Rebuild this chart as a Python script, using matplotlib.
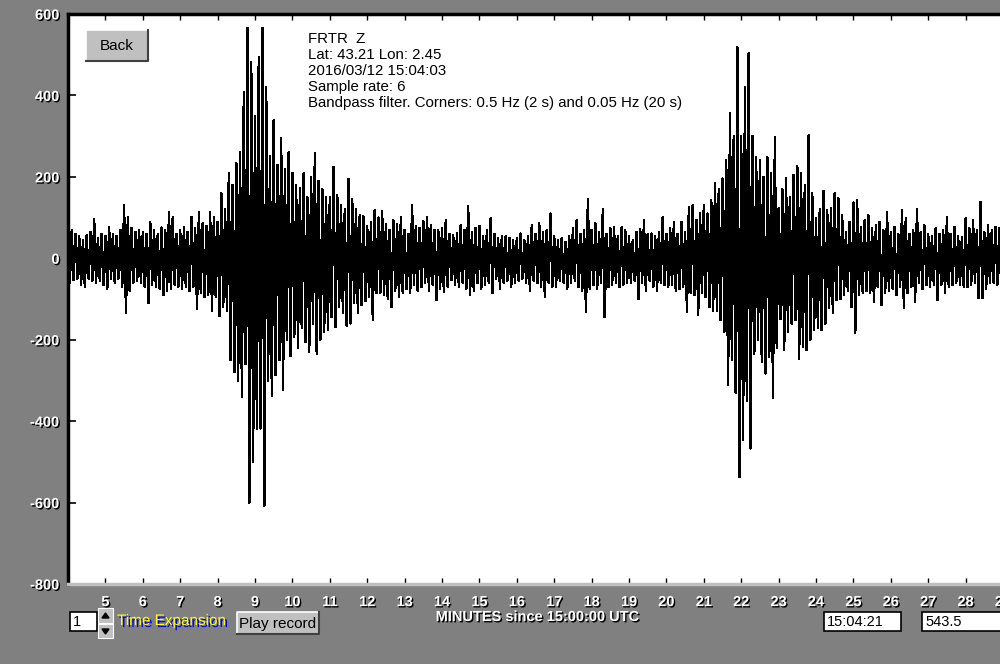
import numpy as np
import matplotlib
matplotlib.use("Agg")
import matplotlib.pyplot as plt
from matplotlib import patheffects as pe
from matplotlib.patches import Rectangle, Polygon

plt.rcParams["axes.unicode_minus"] = False

# FRTR Z, peaks every 0.05 min starting at minute 4.00
t_start = 4.0
t_step = 0.05

pre_event = [  # 4.00 - 7.95
    137, -60, 69, -54, 60, -50, 55, -65, 45, -71, 56, -50, 65, -55, 96, -60, 50, -55, 60, -65,
    55, -75, 76, -50, 60, -60, 55, -50, 70, -70, 130, -135, 100, -80, 75, -60, 65, -55, 70, -60,
    64, -70, 60, -110, 89, -65, 70, -71, 60, -75, 76, -91, 70, -80, 113, -74, 101, -65, 60, -70,
    70, -75, 76, -71, 65, -80, 101, -70, 75, -125, 113, -85, 86, -96, 80, -90, 113, -128, 100, -95,
]
event1 = [  # 8.00 - 10.95
    90, -142, 160, -120, 120, -130, 210, -250, 180, -280, 235, -300, 260, -341, 408, -260, 565, -600, 481, -500,
    350, -420, 494, -418, 565, -607, 420, -300, 250, -339, 340, -287, 230, -250, 295, -324, 220, -200, 260, -240,
    210, -194, 180, -220, 172, -172, 209, -206, 150, -231, 200, -160, 258, -234, 190, -200, 170, -182, 150, -175,
]
coda1 = [  # 11.00 - 15.95
    150, -145, 224, -169, 155, -120, 130, -135, 120, -165, 194, -160, 145, -110, 120, -133, 106, -115, 103, -105,
    80, -95, 90, -152, 118, -85, 100, -86, 115, -90, 85, -100, 70, -120, 93, -80, 85, -95, 101, -86,
    70, -75, 60, -85, 130, -65, 80, -79, 75, -70, 91, -60, 101, -80, 81, -65, 70, -103, 69, -75,
    75, -83, 93, -70, 60, -54, 57, -65, 61, -70, 81, -60, 70, -75, 128, -91, 65, -80, 75, -60,
    79, -74, 55, -66, 69, -60, 98, -86, 60, -50, 49, -74, 55, -60, 54, -55, 50, -71, 45, -60,
]
quiet = [  # 16.00 - 20.95
    50, -55, 61, -50, 45, -60, 55, -79, 81, -55, 60, -61, 86, -70, 65, -96, 70, -60, 110, -70,
    55, -70, 45, -55, 49, -60, 40, -74, 55, -60, 74, -55, 93, -70, 60, -80, 70, -132, 145, -75,
    70, -65, 86, -75, 65, -60, 120, -145, 60, -70, 74, -65, 76, -60, 55, -71, 76, -65, 70, -60,
    55, -60, 45, -55, 65, -100, 71, -60, 93, -79, 60, -55, 61, -70, 55, -80, 65, -60, 101, -65,
    60, -70, 75, -65, 89, -80, 60, -75, 89, -70, 65, -132, 125, -85, 130, -90, 95, -140, 110, -86,
]
event2 = [  # 21.00 - 23.95
    130, -95, 110, -120, 142, -128, 184, -130, 170, -152, 196, -180, 240, -312, 356, -250, 300, -330, 518, -538,
    300, -447, 420, -350, 503, -467, 300, -234, 248, -200, 240, -255, 200, -283, 248, -243, 210, -344, 298, -220,
    123, -150, 170, -226, 196, -180, 150, -160, 204, -152, 226, -246, 209, -218, 179, -226, 302, -200, 160, -175,
]
coda2 = [  # 24.00 - 28.95
    98, -172, 120, -177, 165, -160, 118, -123, 123, -133, 160, -103, 147, -100, 106, -90, 64, -80, 90, -120,
    137, -184, 142, -91, 77, -86, 93, -80, 106, -86, 75, -108, 81, -70, 90, -115, 69, -86, 113, -80,
    65, -75, 77, -91, 60, -70, 118, -123, 98, -86, 60, -70, 70, -108, 120, -60, 65, -75, 81, -66,
    60, -70, 55, -65, 74, -103, 60, -65, 70, -86, 101, -70, 60, -65, 77, -61, 55, -65, 52, -70,
    98, -70, 74, -65, 93, -60, 70, -98, 138, -98, 65, -75, 81, -61, 70, -60, 77, -65, 74, -71,
]

trace = np.array(pre_event + event1 + coda1 + quiet + event2 + coda2, dtype=float)
minutes = t_start + t_step * np.arange(len(trace))

y_ticks = [-800, -600, -400, -200, 0, 200, 400, 600]
x_ticks = list(range(5, 30))
info_lines = ["FRTR  Z", "Lat: 43.21 Lon: 2.45", "2016/03/12 15:04:03",
              "Sample rate: 6", "Bandpass filter. Corners: 0.5 Hz (2 s) and 0.05 Hz (20 s)"]

GRAY = "#808080"
BTN = "#c0c0c0"
FONT = "Liberation Sans"
shadow = [pe.withSimplePatchShadow(offset=(1, -1), shadow_rgbFace="black", alpha=1.0)]

fig = plt.figure(figsize=(10, 6.64), dpi=100, facecolor=GRAY)
ax = fig.add_axes([0.068, 1 - 584 / 664, 0.935, 570 / 664])
ax.plot(minutes, trace, color="black", lw=1.0, antialiased=False)
ax.set_xlim(4.0, 29.0)
ax.set_ylim(-800, 600)

ax.set_yticks(y_ticks)
ax.set_xticks(x_ticks)
ax.tick_params(axis="y", direction="in", length=6, width=1.2, color="black", pad=6,
               labelsize=10.5, labelcolor="white")
ax.tick_params(axis="x", direction="in", length=4, width=1, color="black", pad=8,
               labelsize=10.5, labelcolor="white", top=True)
for lab in ax.get_xticklabels() + ax.get_yticklabels():
    lab.set_fontfamily(FONT)
    lab.set_fontweight("bold")
    lab.set_path_effects(shadow)

ax.spines["right"].set_visible(False)
ax.spines["left"].set_linewidth(2.5)
ax.spines["top"].set_linewidth(2.5)
ax.spines["bottom"].set_color(BTN)
ax.spines["bottom"].set_linewidth(2.5)

for i, line in enumerate(info_lines):
    fig.text(308 / 1000, 1 - (32 + 16 * i) / 664, line, fontsize=10.8, family=FONT,
             color="black", va="top", ha="left")

fig.text(538 / 1000, 1 - 617 / 664, "MINUTES since 15:00:00 UTC", fontsize=10.5, family=FONT,
         fontweight="bold", color="white", ha="center", va="center", path_effects=shadow)

# window controls drawn in pixel coordinates on top
ov = fig.add_axes([0, 0, 1, 1], zorder=5)
ov.set_xlim(0, 1000)
ov.set_ylim(664, 0)
ov.axis("off")
ov.patch.set_alpha(0)


def button(x0, y0, x1, y1, label):
    ov.add_patch(Rectangle((x0, y0), x1 - x0, y1 - y0, facecolor=BTN, edgecolor="none"))
    ov.plot([x0, x0, x1], [y1, y0, y0], color="white", lw=1.2)
    ov.plot([x0, x1, x1], [y1, y1, y0], color="#404040", lw=1.5)
    ov.text((x0 + x1) / 2, (y0 + y1) / 2 + 1, label, fontsize=11, family=FONT,
            color="black", ha="center", va="center")


def box(x0, y0, x1, y1, label):
    ov.add_patch(Rectangle((x0, y0), x1 - x0, y1 - y0, facecolor="white",
                           edgecolor="black", lw=1.2))
    ov.text(x0 + 3, (y0 + y1) / 2 + 1, label, fontsize=10.5, family=FONT,
            color="black", ha="left", va="center")


button(86, 30, 148, 61, "Back")
button(237, 612, 319, 634, "Play record")
box(70, 612, 97, 631, "1")
box(824, 612, 901, 631, "15:04:21")
box(922, 612, 1010, 631, "543.5")

# spin buttons
ov.add_patch(Rectangle((98, 608), 15, 15, facecolor=BTN, edgecolor="white", lw=0.8))
ov.add_patch(Rectangle((98, 624), 15, 14, facecolor=BTN, edgecolor="white", lw=0.8))
ov.add_patch(Polygon([[102, 618], [109, 618], [105.5, 613]], color="black"))
ov.add_patch(Polygon([[102, 629], [109, 629], [105.5, 634]], color="black"))

ov.text(117, 621, "Time Expansion", fontsize=11, family=FONT, color="#ffff00",
        ha="left", va="center",
        path_effects=[pe.withSimplePatchShadow(offset=(1.5, -1.5), shadow_rgbFace="#0000ff", alpha=1.0)])

fig.savefig("out.png", dpi=100, facecolor=GRAY)
